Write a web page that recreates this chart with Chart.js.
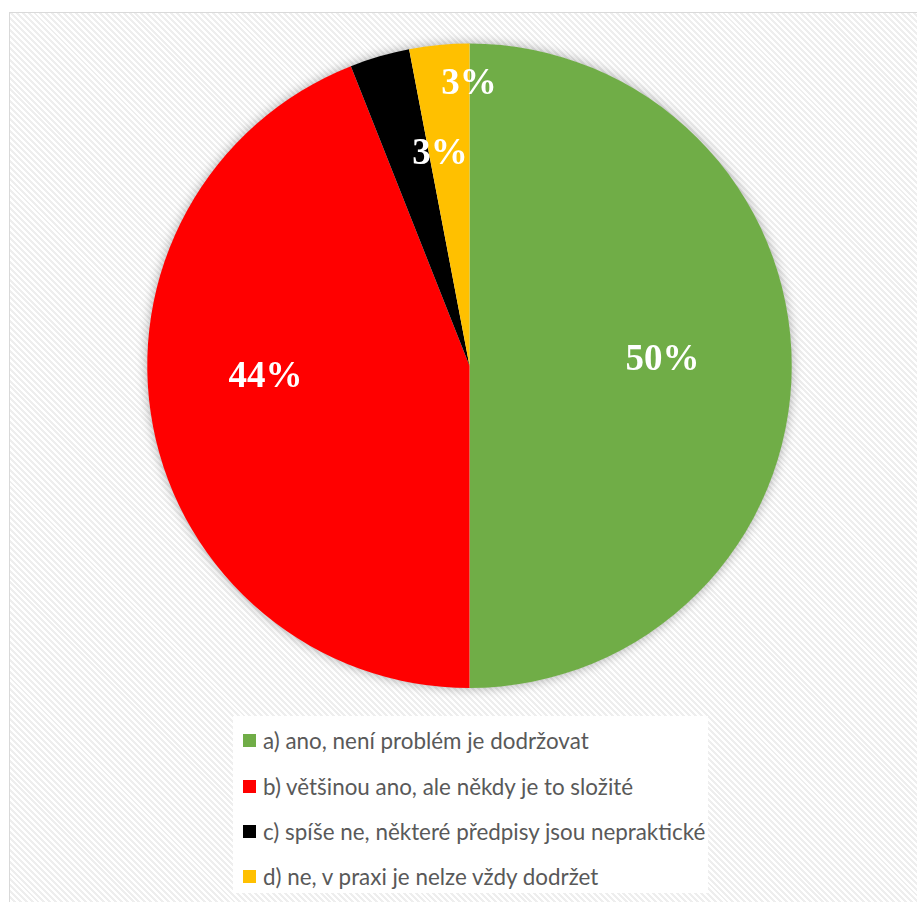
<!DOCTYPE html>
<html>
<head>
<meta charset="utf-8">
<script src="https://cdn.jsdelivr.net/npm/chart.js@4.4.1/dist/chart.umd.min.js"></script>
<style>
  html, body { margin: 0; padding: 0; background: #ffffff; width: 917px; height: 902px; overflow: hidden; }
  #frame {
    position: absolute; left: 9px; top: 12px; width: 960px; height: 960px;
    border: 1.5px solid #d9d9d9;
    background: repeating-linear-gradient(45deg, #ffffff 0px, #ffffff 2.1px, #eeeeee 2.1px, #eeeeee 4.2px);
  }
  #wrap { position: absolute; left: 0; top: 0; width: 917px; height: 902px; }
  #legend {
    position: absolute; left: 233px; top: 716px; width: 475px; height: 177px;
    background: #ffffff; box-sizing: border-box; padding-top: 2px;
    font-family: Lato, "Liberation Sans", sans-serif; font-size: 22.4px; color: #595959;
  }
  .item { display: flex; align-items: center; height: 45.4px; padding-left: 10px; white-space: nowrap; }
  .sw { width: 13px; height: 13px; margin-right: 7px; flex: none; }
</style>
</head>
<body>
<div id="frame"></div>
<div id="wrap"><canvas id="c" width="917" height="902"></canvas></div>
<div id="legend"></div>
<script>
const categories = [
  "a) ano, není problém je dodržovat",
  "b) většinou ano, ale někdy je to složité",
  "c) spíše ne, některé předpisy jsou nepraktické",
  "d) ne, v praxi je nelze vždy dodržet"
];
const values = [50, 44, 3, 3];
const percentLabels = ["50%", "44%", "3%", "3%"];
const colors = ["#70AD47", "#FF0000", "#000000", "#FFC000"];

// label placement: fraction along slice angle, fraction of radius
const labelPlacement = [
  { t: 0.492, r: 0.599 },
  { t: 0.547, r: 0.634 },
  { t: 1.26,  r: 0.661 },
  { t: 0.99,  r: 0.872 }
];

const shadowPlugin = {
  id: 'pieShadow',
  beforeDatasetsDraw(chart) {
    const meta = chart.getDatasetMeta(0);
    if (!meta.data.length) return;
    const a = meta.data[0];
    const ctx = chart.ctx;
    ctx.save();
    ctx.shadowColor = 'rgba(0,0,0,0.35)';
    ctx.shadowBlur = 12;
    ctx.fillStyle = '#ffffff';
    ctx.beginPath();
    ctx.arc(a.x, a.y, a.outerRadius - 0.5, 0, Math.PI * 2);
    ctx.fill();
    ctx.restore();
  }
};

const labelPlugin = {
  id: 'sliceLabels',
  afterDatasetsDraw(chart) {
    const meta = chart.getDatasetMeta(0);
    const ctx = chart.ctx;
    ctx.save();
    ctx.fillStyle = '#ffffff';
    ctx.font = 'bold 37px "Liberation Serif", "Times New Roman", serif';
    ctx.textAlign = 'center';
    ctx.textBaseline = 'middle';
    meta.data.forEach((arc, i) => {
      const p = labelPlacement[i];
      const ang = arc.startAngle + (arc.endAngle - arc.startAngle) * p.t;
      const rr = arc.outerRadius * p.r;
      ctx.fillText(percentLabels[i], arc.x + Math.cos(ang) * rr, arc.y + Math.sin(ang) * rr);
    });
    ctx.restore();
  }
};

const chart = new Chart(document.getElementById('c'), {
  type: 'pie',
  data: {
    labels: categories,
    datasets: [{ data: values, backgroundColor: colors, borderWidth: 0 }]
  },
  options: {
    responsive: false,
    animation: false,
    layout: { padding: { top: 43.5, bottom: 214, left: 22, right: 0 } },
    plugins: { legend: { display: false }, tooltip: { enabled: false } }
  },
  plugins: [shadowPlugin, labelPlugin]
});

// HTML legend built from the chart's data
const leg = document.getElementById('legend');
chart.data.labels.forEach((lab, i) => {
  const row = document.createElement('div');
  row.className = 'item';
  const sw = document.createElement('span');
  sw.className = 'sw';
  sw.style.background = chart.data.datasets[0].backgroundColor[i];
  const tx = document.createElement('span');
  tx.textContent = lab;
  row.appendChild(sw); row.appendChild(tx);
  leg.appendChild(row);
});
</script>
</body>
</html>
